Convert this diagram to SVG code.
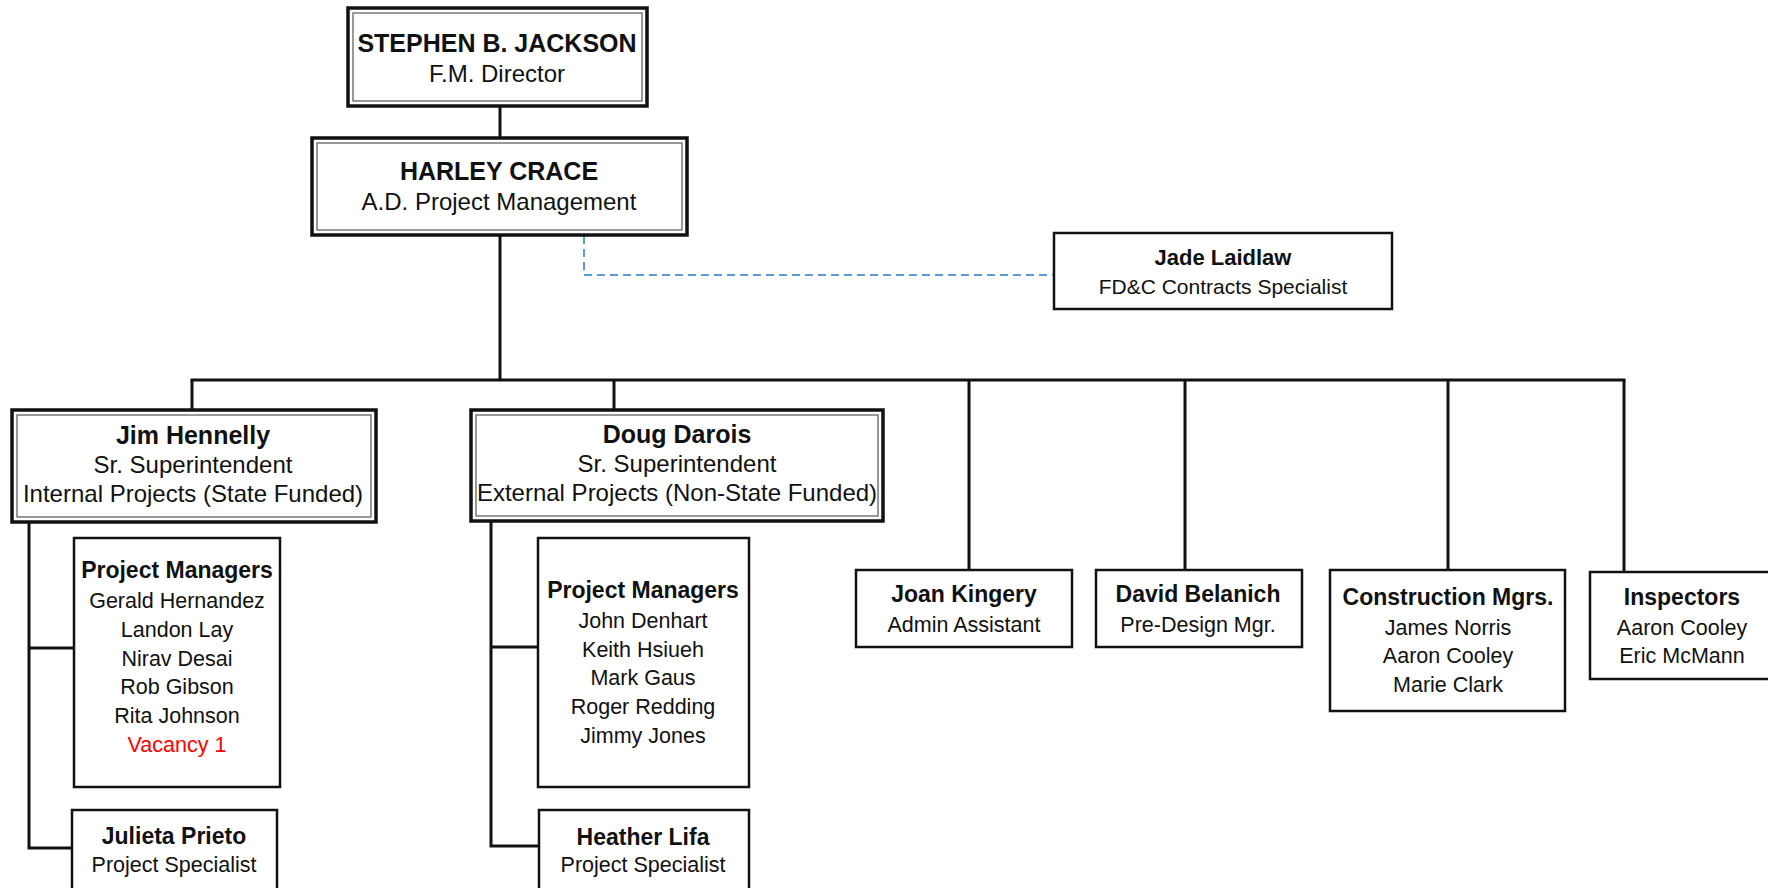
<svg xmlns="http://www.w3.org/2000/svg" width="1768" height="888" viewBox="0 0 1768 888">
<style>
.bg{fill:#fff}
.box{fill:#fff;stroke:#111;stroke-width:2.5}
.dbo{fill:#fff;stroke:#111;stroke-width:3.5}
.dbi{fill:none;stroke:#555;stroke-width:1.2}
.ln{fill:none;stroke:#111;stroke-width:3}
.dash{fill:none;stroke:#5b9bd5;stroke-width:2;stroke-dasharray:8 5}
text{font-family:"Liberation Sans",Arial,sans-serif;text-anchor:middle;fill:#111}
.tb{font-size:25px;font-weight:bold}
.tr{font-size:24px}
.sb{font-size:23px;font-weight:bold}
.sr{font-size:21.5px}
.jb{font-size:22px;font-weight:bold}
.jr{font-size:21px}
.red{fill:#ff0000}
</style>
<rect class="bg" x="0" y="0" width="1768" height="888"/>
<g id="connectors">
<line class="ln" x1="500" y1="107" x2="500" y2="137"/>
<line class="ln" x1="500" y1="236" x2="500" y2="380"/>
<line class="ln" x1="190.5" y1="380" x2="1625.5" y2="380"/>
<line class="ln" x1="192" y1="380" x2="192" y2="409"/>
<line class="ln" x1="614" y1="380" x2="614" y2="409"/>
<line class="ln" x1="969" y1="380" x2="969" y2="570"/>
<line class="ln" x1="1185" y1="380" x2="1185" y2="570"/>
<line class="ln" x1="1448" y1="380" x2="1448" y2="570"/>
<line class="ln" x1="1624" y1="380" x2="1624" y2="572"/>
<polyline class="ln" points="29,522 29,848 72,848"/>
<line class="ln" x1="29" y1="648" x2="74" y2="648"/>
<polyline class="ln" points="491,521 491,846 539,846"/>
<line class="ln" x1="491" y1="647" x2="538" y2="647"/>
<polyline class="dash" points="584,236 584,275 1054,275"/>
</g>
<g id="stephen">
<rect class="dbo" x="348" y="8" width="299" height="98"/>
<rect class="dbi" x="353" y="13" width="289" height="88"/>
<text class="tb" x="497" y="52">STEPHEN B. JACKSON</text>
<text class="tr" x="497" y="82">F.M. Director</text>
</g>
<g id="harley">
<rect class="dbo" x="312" y="138" width="375" height="97"/>
<rect class="dbi" x="317" y="143" width="365" height="87"/>
<text class="tb" x="499" y="180">HARLEY CRACE</text>
<text class="tr" x="499" y="210">A.D. Project Management</text>
</g>
<g id="jade">
<rect class="box" x="1054" y="233" width="338" height="76"/>
<text class="jb" x="1223" y="265">Jade Laidlaw</text>
<text class="jr" x="1223" y="294">FD&amp;C Contracts Specialist</text>
</g>
<g id="jim">
<rect class="dbo" x="12" y="410" width="364" height="112"/>
<rect class="dbi" x="17" y="415" width="354" height="102"/>
<text class="tb" x="193" y="444">Jim Hennelly</text>
<text class="tr" x="193" y="473">Sr. Superintendent</text>
<text class="tr" x="193" y="502">Internal Projects (State Funded)</text>
</g>
<g id="doug">
<rect class="dbo" x="471" y="410" width="412" height="111"/>
<rect class="dbi" x="476" y="415" width="402" height="101"/>
<text class="tb" x="677" y="443">Doug Darois</text>
<text class="tr" x="677" y="472">Sr. Superintendent</text>
<text class="tr" x="677" y="501">External Projects (Non-State Funded)</text>
</g>
<g id="pm-internal">
<rect class="box" x="74" y="538" width="206" height="249"/>
<text class="sb" x="177" y="578">Project Managers</text>
<text class="sr" x="177" y="608">Gerald Hernandez</text>
<text class="sr" x="177" y="637">Landon Lay</text>
<text class="sr" x="177" y="666">Nirav Desai</text>
<text class="sr" x="177" y="694">Rob Gibson</text>
<text class="sr" x="177" y="723">Rita Johnson</text>
<text class="sr red" x="177" y="752">Vacancy 1</text>
</g>
<g id="julieta">
<rect class="box" x="72" y="810" width="205" height="90"/>
<text class="sb" x="174" y="844">Julieta Prieto</text>
<text class="sr" x="174" y="872">Project Specialist</text>
</g>
<g id="pm-external">
<rect class="box" x="538" y="538" width="211" height="249"/>
<text class="sb" x="643" y="598">Project Managers</text>
<text class="sr" x="643" y="628">John Denhart</text>
<text class="sr" x="643" y="657">Keith Hsiueh</text>
<text class="sr" x="643" y="685">Mark Gaus</text>
<text class="sr" x="643" y="714">Roger Redding</text>
<text class="sr" x="643" y="743">Jimmy Jones</text>
</g>
<g id="heather">
<rect class="box" x="539" y="810" width="210" height="90"/>
<text class="sb" x="643" y="845">Heather Lifa</text>
<text class="sr" x="643" y="872">Project Specialist</text>
</g>
<g id="joan">
<rect class="box" x="856" y="570" width="216" height="77"/>
<text class="sb" x="964" y="602">Joan Kingery</text>
<text class="sr" x="964" y="632">Admin Assistant</text>
</g>
<g id="david">
<rect class="box" x="1096" y="570" width="206" height="77"/>
<text class="sb" x="1198" y="602">David Belanich</text>
<text class="sr" x="1198" y="632">Pre-Design Mgr.</text>
</g>
<g id="construction">
<rect class="box" x="1330" y="570" width="235" height="141"/>
<text class="sb" x="1448" y="605">Construction Mgrs.</text>
<text class="sr" x="1448" y="635">James Norris</text>
<text class="sr" x="1448" y="663">Aaron Cooley</text>
<text class="sr" x="1448" y="692">Marie Clark</text>
</g>
<g id="inspectors">
<rect class="box" x="1590" y="572" width="186" height="107"/>
<text class="sb" x="1682" y="605">Inspectors</text>
<text class="sr" x="1682" y="635">Aaron Cooley</text>
<text class="sr" x="1682" y="663">Eric McMann</text>
</g>
</svg>
